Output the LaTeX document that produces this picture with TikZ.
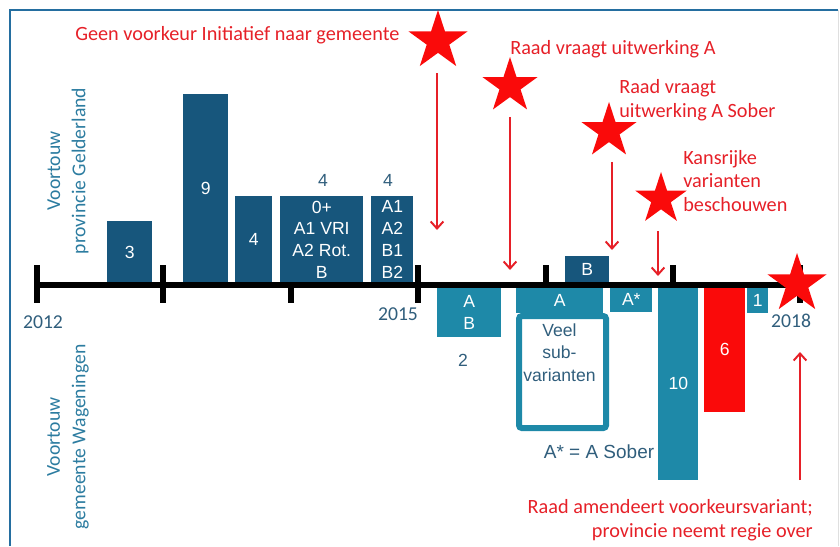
\documentclass[tikz,border=0pt]{standalone}
\usepackage{fontspec}
\setmainfont{Carlito}
\newfontfamily\arialfont{Liberation Sans}
\usetikzlibrary{shapes.geometric,arrows.meta}

\definecolor{bleufonce}{RGB}{23,86,124}
\definecolor{bleuclair}{RGB}{30,137,168}
\definecolor{rouge}{RGB}{230,32,40}
\definecolor{etoile}{RGB}{250,10,10}
\definecolor{gristexte}{RGB}{48,94,124}
\definecolor{bleutexte}{RGB}{44,124,160}
\definecolor{cadre}{RGB}{36,110,160}

\begin{document}
\begin{tikzpicture}[
    x=0.025cm, y=-0.025cm,   % une unité = un pixel
    every node/.style={inner sep=0pt},
    % Réglages des barres
    barre/.style 2 args={rectangle, anchor=north west, minimum width=#1*0.025cm,
        minimum height=#2*0.025cm, text=white, align=center,
        font=\arialfont\fontsize{12.5}{15.6}\selectfont},
    haut/.style={fill=bleufonce},
    bas/.style={fill=bleuclair},
    etiq/.style={text=gristexte, font=\arialfont\fontsize{12.5}{16.3}\selectfont},
    annee/.style={text=gristexte, font=\fontsize{14}{17}\selectfont},
    rem/.style={text=rouge, font=\fontsize{14.4}{17}\selectfont},
    voortouw/.style={text=bleutexte, rotate=90, align=center, font=\fontsize{14}{18}\selectfont},
    ster/.style={star, star points=5, star point ratio=2.618, fill=etoile, minimum size=#1*0.05cm},
    pijl/.style={draw=rouge, line width=1.4pt, -{Straight Barb[length=5pt,width=9pt]}},
    as/.style={line width=4.3pt}
]
\useasboundingbox (0,0) rectangle (840,546);
% Cadre
\draw[cadre, line width=1.5pt] (10,546) -- (10,10) -- (838,10);
\draw[gray!25] (838,10) -- (838,546);

% Textes verticaux
\node[voortouw] (prov) at (68,171) {Voortouw\\provincie Gelderland};
\node[voortouw] (gem) at (68,437) {Voortouw\\gemeente Wageningen};

% Barres au-dessus de l'axe
\node[barre={45}{62}, haut] (b3) at (107,221) {3};
\node[barre={45}{189}, haut] (b9) at (183,94) {9};
\node[barre={37}{87}, haut] (b4) at (235,196) {4};
\node[barre={83}{87}, haut] (bvri) at (280,196) {0+\\A1 VRI\\A2 Rot.\\B};
\node[barre={42}{87}, haut] (bab) at (371,196) {A1\\A2\\B1\\B2};
\node[barre={44}{27}, haut] (bb) at (565,256) {B};
\node[etiq] (n4a) at (323,180) {4};
\node[etiq] (n4b) at (388,180) {4};

% Barres en dessous
\node[barre={64}{50}, bas] (bAB) at (437,287) {A\\B};
\node[barre={87}{26}, bas] (bA) at (516,287) {A};
\node[barre={42}{25}, bas] (bAs) at (610,287) {A*};
\node[barre={40}{193}, bas] (b10) at (658,287) {10};
\node[barre={41}{125}, fill=etoile] (b6) at (704,287) {6};
\node[barre={21}{26}, bas] (b1) at (747,287) {1};
\node[draw=bleuclair, line width=4.3pt, rounded corners=2pt, anchor=north west,
    minimum width=87*0.025cm, minimum height=112*0.025cm] (veel) at (516,313) {};
\node[etiq, align=center, anchor=north] (veeltxt) at (559.5,323) {Veel\\sub-\\varianten};
\node[etiq] (n2) at (463,360) {2};
\node[etiq, font=\arialfont\fontsize{13.5}{16}\selectfont] (sober) at (599,452) {A* = A Sober};

% Axe du temps
\coordinate (t2012) at (37,285);
\coordinate (t2018) at (800,285);
\draw[as] (t2012) -- (t2018);
\foreach \x in {37,163,418,800}
    \draw[as] (\x,265) -- (\x,303);
\draw[as] (291,285) -- (291,303);
\foreach \x in {546,673}
    \draw[as] (\x,265) -- (\x,285);
\node[annee] (j2012) at (43,322) {2012};
\node[annee] (j2015) at (398,314) {2015};
\node[annee] (j2018) at (791,321) {2018};

% Etoiles et remarques
\node[ster=31] (s1) at (438,41) {};
\node[ster=29] (s2) at (510,86) {};
\node[ster=29] (s3) at (609,131) {};
\node[ster=27] (s4) at (661,199) {};
\node[ster=31] (s5) at (797,284) {};
\node[rem, anchor=west] (r1) at (75,35) {Geen voorkeur Initiatief naar gemeente};
\node[rem, anchor=west] (r2) at (510,49) {Raad vraagt uitwerking A};
\node[rem, anchor=west, align=left] (r3) at (619,100) {Raad vraagt\\uitwerking A Sober};
\node[rem, anchor=west, align=left] (r4) at (683,181) {Kansrijke\\varianten\\beschouwen};
\node[rem, anchor=east, align=right] (r5) at (813,520) {Raad amendeert voorkeursvariant;\\provincie neemt regie over};

% Flèches
\coordinate (p1) at (437,230);
\coordinate (p2) at (510,270);
\coordinate (p3) at (612,250);
\coordinate (p4) at (658,276);
\coordinate (p5) at (800,480);
\coordinate (q5) at (800,352);
\draw[pijl, shorten <=23pt] (s1.center -| p1) -- (p1);
\draw[pijl, shorten <=22pt] (s2.center -| p2) -- (p2);
\draw[pijl, shorten <=22pt] (s3.center -| p3) -- (p3);
\draw[pijl, shorten <=23pt] (s4.center -| p4) -- (p4);
\draw[pijl] (p5) -- (q5);
\end{tikzpicture}
\end{document}
